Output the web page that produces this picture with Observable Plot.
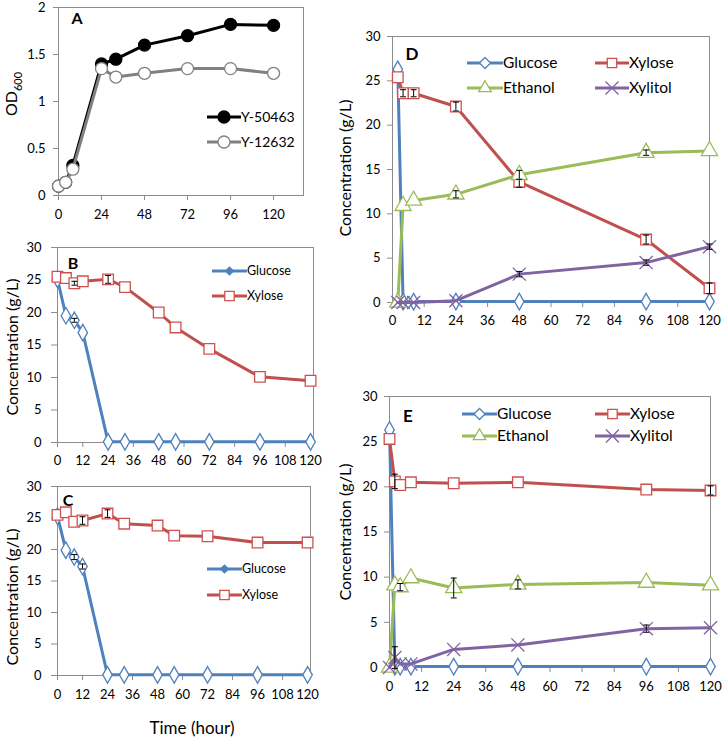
<!DOCTYPE html>
<html><head><meta charset="utf-8">
<script src="https://cdn.jsdelivr.net/npm/d3@7"></script>
<script src="https://cdn.jsdelivr.net/npm/@observablehq/plot@0.6"></script>
<style>
body{margin:0;background:#fff;}
#root{position:relative;width:723px;height:739px;font-family:Lato,"Open Sans",sans-serif;color:#000;overflow:hidden;}
.abs{position:absolute;}
.ylab{position:absolute;transform:translate(-50%,-50%) rotate(-90deg);white-space:nowrap;font-size:16px;line-height:1;}
.xlab{position:absolute;transform:translate(-50%,-50%);white-space:nowrap;font-size:17px;line-height:1;}
.letter{position:absolute;transform:translate(-50%,-50%);font-weight:bold;line-height:1;}
.leg{position:absolute;display:flex;align-items:center;white-space:nowrap;line-height:1;transform:translateY(-50%);}
.leg svg{display:block;}
</style></head><body><div id="root"></div><script>
// ---------- data ----------
const timeA = [0, 4, 8, 24, 32, 48, 72, 96, 120];
const odY50463 = [0.10, 0.14, 0.32, 1.40, 1.45, 1.60, 1.70, 1.82, 1.81];
const odY12632 = [0.10, 0.14, 0.28, 1.35, 1.26, 1.30, 1.35, 1.35, 1.30];

const timeBC = [0, 4, 8, 12, 24, 32, 48, 56, 72, 96, 120];
const glucoseB = [25.1, 19.5, 18.8, 16.9, 0.1, 0.1, 0.1, 0.1, 0.1, 0.1, 0.1];
const xyloseB  = [25.5, 25.3, 24.5, 24.8, 25.1, 23.9, 20.0, 17.7, 14.4, 10.1, 9.5];
const glucoseBErr = [0, 0, 0.3, 0, 0, 0, 0, 0, 0, 0, 0];
const xyloseBErr  = [0, 0, 0.3, 0, 0.6, 0, 0, 0, 0, 0, 0];
const glucoseC = [25.3, 19.9, 18.8, 17.3, 0.1, 0.1, 0.1, 0.1, 0.1, 0.1, 0.1];
const xyloseC  = [25.5, 25.9, 24.4, 24.6, 25.7, 24.1, 23.8, 22.2, 22.1, 21.1, 21.1];
const glucoseCErr = [0, 0, 0.4, 0.4, 0, 0, 0, 0, 0, 0, 0];
const xyloseCErr  = [0, 0, 0, 0.6, 0.6, 0, 0, 0, 0, 0, 0];

const timeD = [2, 4, 8, 24, 48, 96, 120];
const glucoseD = [26.3, 0.1, 0.1, 0.1, 0.1, 0.1, 0.1];
const xyloseD  = [25.4, 23.6, 23.6, 22.1, 13.6, 7.1, 1.6];
const ethanolD = [0, 10.9, 11.5, 12.2, 14.4, 16.9, 17.1];
const xylitolD = [0, 0, 0, 0.2, 3.2, 4.5, 6.3];
const xyloseDErr  = [0, 0.4, 0.4, 0.5, 0.6, 0.5, 0.6];
const ethanolDErr = [0, 0, 0, 0.4, 0.5, 0.3, 0];
const xylitolDErr = [0, 0, 0, 0, 0.3, 0.3, 0.3];

const timeE = [0, 2, 4, 8, 24, 48, 96, 120];
const glucoseE = [26.3, 0.1, 0.1, 0.1, 0.1, 0.1, 0.1, 0.1];
const xyloseE  = [25.3, 20.6, 20.2, 20.5, 20.4, 20.5, 19.7, 19.6];
const ethanolE = [0, 9.1, 8.9, 9.9, 8.8, 9.2, 9.4, 9.1];
const xylitolE = [0, 1.1, 0.4, 0.4, 2.0, 2.5, 4.3, 4.4];
const xyloseEErr  = [0, 0.8, 0, 0, 0, 0, 0, 0.5];
const ethanolEErr = [0, 0, 0.4, 0, 1.1, 0.5, 0, 0];
const xylitolEErr = [0, 1.2, 0, 0, 0, 0, 0.4, 0];

const ticksOD = [0, 0.5, 1, 1.5, 2];
const ticksConc = [0, 5, 10, 15, 20, 25, 30];
const ticksTimeA = [0, 24, 48, 72, 96, 120];
const ticksTime = [0, 12, 24, 36, 48, 60, 72, 84, 96, 108, 120];

// ---------- styles ----------
const BLUE = "#4F81BD", RED = "#C0504D", GREEN = "#9BBB59", PURPLE = "#8064A2";
const FONT = 'Lato, "Open Sans", sans-serif';
const capSymbol = {draw(ctx) { ctx.moveTo(-3, 0); ctx.lineTo(3, 0); }};
const plainFormat = d => String(d);

const root = document.getElementById("root");

function seriesMarks(t, v, err, o) {
  const data = t.map((x, i) => ({t: x, v: v[i], e: err ? err[i] : 0}));
  const ed = data.filter(d => d.e > 0);
  return [
    Plot.line(data, {x: "t", y: "v", stroke: o.color, strokeWidth: 3, strokeLinejoin: "round"}),
    Plot.dot(data, {x: "t", y: "v", symbol: o.symbol, r: o.r || 5.5, stroke: o.mstroke || o.color, fill: o.fill || "white", strokeWidth: 1.3}),
    Plot.ruleX(ed, {x: "t", y1: d => d.v - d.e, y2: d => d.v + d.e, stroke: "black", strokeWidth: 1}),
    Plot.dot(ed, {x: "t", y: d => d.v - d.e, symbol: capSymbol, r: 2, stroke: "black", fill: "none", strokeWidth: 1}),
    Plot.dot(ed, {x: "t", y: d => d.v + d.e, symbol: capSymbol, r: 2, stroke: "black", fill: "none", strokeWidth: 1})
  ];
}

function panel(p) {
  const svg = Plot.plot({
    width: p.width, height: p.height,
    marginLeft: p.ml, marginRight: p.mr, marginTop: p.mt, marginBottom: p.mb,
    x: {domain: p.xdomain},
    y: {domain: p.ydomain},
    style: {fontFamily: FONT, fontSize: "13px", color: "black", background: "transparent", overflow: "visible"},
    marks: [
      Plot.axisY({ticks: p.yticks, tickFormat: plainFormat, tickSize: p.ytickSize || 5, tickPadding: p.ytickPad || 8, label: null, stroke: "#8c8c8c", fill: "black"}),
      Plot.axisX({ticks: p.xticks, tickFormat: plainFormat, tickSize: 5, tickPadding: p.xtickPad || 6, label: null, stroke: "#8c8c8c", fill: "black"}),
      Plot.frame({stroke: "#8c8c8c", strokeWidth: 1}),
      ...p.marks
    ]
  });
  svg.style.position = "absolute";
  svg.style.left = p.left + "px";
  svg.style.top = p.top + "px";
  root.appendChild(svg);
}

function addText(cls, html, x, y, size) {
  const d = document.createElement("div");
  d.className = cls;
  d.innerHTML = html;
  d.style.left = x + "px"; d.style.top = y + "px";
  if (size) d.style.fontSize = size + "px";
  root.appendChild(d);
}

const symMap = {circle: d3.symbolCircle, diamond: d3.symbolDiamond2, square: d3.symbolSquare2, triangle: d3.symbolTriangle2, times: d3.symbolX};
function legendItem(x, y, lineW, o, text, size) {
  const d = document.createElement("div");
  d.className = "leg";
  d.style.left = x + "px"; d.style.top = y + "px"; d.style.fontSize = size + "px";
  const h = 16;
  const r = o.r || 5.5;
  const path = d3.symbol(symMap[o.symbol], Math.PI * r * r)();
  d.innerHTML = `<svg width="${lineW}" height="${h}"><line x1="0" x2="${lineW}" y1="${h/2}" y2="${h/2}" stroke="${o.color}" stroke-width="3"/>` +
    `<path transform="translate(${lineW/2},${h/2})" d="${path}" fill="${o.fill || 'white'}" stroke="${o.mstroke || o.color}" stroke-width="1.3"/></svg><span>${text}</span>`;
  root.appendChild(d);
}

// ---------- Panel A ----------
const sA1 = {color: "black", symbol: "circle", fill: "black", r: 6};
const sA2 = {color: "#808080", symbol: "circle", fill: "white", r: 6};
panel({left: 0, top: 0, width: 320, height: 232, ml: 58, mr: 17, mt: 7, mb: 37,
  xdomain: [0, 136.7], ydomain: [0, 2], yticks: ticksOD, xticks: ticksTimeA, xtickPad: 9,
  marks: [...seriesMarks(timeA, odY50463, null, sA1), ...seriesMarks(timeA, odY12632, null, sA2)]});
addText("ylab", "OD<sub style='font-size:11px'>600</sub>", 13, 94, 16);
addText("letter", "A", 77, 18, 16);
legendItem(207, 117, 34, sA1, "Y-50463", 14);
legendItem(207, 142, 34, sA2, "Y-12632", 14);

// ---------- Panel B ----------
const sGlu = {color: BLUE, symbol: "diamond", r: 5};
const sXyl = {color: RED, symbol: "square", r: 6, mstroke: "#D05050"};
const sEth = {color: GREEN, symbol: "triangle", r: 6};
const sXol = {color: PURPLE, symbol: "times", r: 6};
panel({left: 0, top: 240, width: 330, height: 240, ml: 57, mr: 17, mt: 7, mb: 38,
  xdomain: [0, 121.4], ydomain: [0, 30], yticks: ticksConc, xticks: ticksTime, ytickSize: 6, ytickPad: 10, xtickPad: 8,
  marks: [...seriesMarks(timeBC, glucoseB, glucoseBErr, sGlu), ...seriesMarks(timeBC, xyloseB, xyloseBErr, sXyl)]});
addText("ylab", "Concentration (g/L)", 12, 347, 16);
addText("letter", "B", 73, 263, 16);
legendItem(212, 271, 35, {...sGlu, r: 3.5, fill: BLUE}, "Glucose", 12.5);
legendItem(212, 296, 35, sXyl, "Xylose", 12.5);

// ---------- Panel C ----------
panel({left: 0, top: 480, width: 330, height: 240, ml: 57, mr: 20, mt: 6, mb: 45,
  xdomain: [0, 121.4], ydomain: [0, 30], yticks: ticksConc, xticks: ticksTime, ytickSize: 6, ytickPad: 10, xtickPad: 9,
  marks: [...seriesMarks(timeBC, glucoseC, glucoseCErr, sGlu), ...seriesMarks(timeBC, xyloseC, xyloseCErr, sXyl)]});
addText("ylab", "Concentration (g/L)", 12, 597, 16);
addText("letter", "C", 68, 500, 16);
legendItem(207, 569, 35, {...sGlu, r: 3.5, fill: BLUE}, "Glucose", 12.5);
legendItem(207, 595, 35, sXyl, "Xylose", 12.5);
addText("xlab", "Time (hour)", 192, 727, 17);

// ---------- Panel D ----------
panel({left: 350, top: 30, width: 373, height: 310, ml: 42, mr: 14, mt: 6, mb: 38,
  xdomain: [0, 120], ydomain: [0, 30], yticks: ticksConc, xticks: ticksTime, ytickSize: 5, ytickPad: 7, xtickPad: 8,
  marks: [...seriesMarks(timeD, glucoseD, null, sGlu), ...seriesMarks(timeD, xyloseD, xyloseDErr, sXyl),
          ...seriesMarks(timeD, ethanolD, ethanolDErr, sEth), ...seriesMarks(timeD, xylitolD, xylitolDErr, sXol)]});
addText("ylab", "Concentration (g/L)", 345, 168, 16);
addText("letter", "D", 412, 53, 17);
legendItem(467, 63, 36, sGlu, "Glucose", 15.5);
legendItem(595, 63, 34, sXyl, "Xylose", 15.5);
legendItem(467, 88, 36, sEth, "Ethanol", 15.5);
legendItem(595, 88, 34, sXol, "Xylitol", 15.5);

// ---------- Panel E ----------
panel({left: 350, top: 390, width: 373, height: 320, ml: 39, mr: 13, mt: 6, mb: 43,
  xdomain: [0, 120], ydomain: [0, 30], yticks: ticksConc, xticks: ticksTime, ytickSize: 5, ytickPad: 7, xtickPad: 9,
  marks: [...seriesMarks(timeE, glucoseE, null, sGlu), ...seriesMarks(timeE, xyloseE, xyloseEErr, sXyl),
          ...seriesMarks(timeE, ethanolE, ethanolEErr, sEth), ...seriesMarks(timeE, xylitolE, xylitolEErr, sXol)]});
addText("ylab", "Concentration (g/L)", 345, 532, 16);
addText("letter", "E", 408, 415, 17);
legendItem(462, 414, 35, sGlu, "Glucose", 15.5);
legendItem(595, 414, 35, sXyl, "Xylose", 15.5);
legendItem(462, 436, 35, sEth, "Ethanol", 15.5);
legendItem(595, 436, 35, sXol, "Xylitol", 15.5);
</script></body></html>
